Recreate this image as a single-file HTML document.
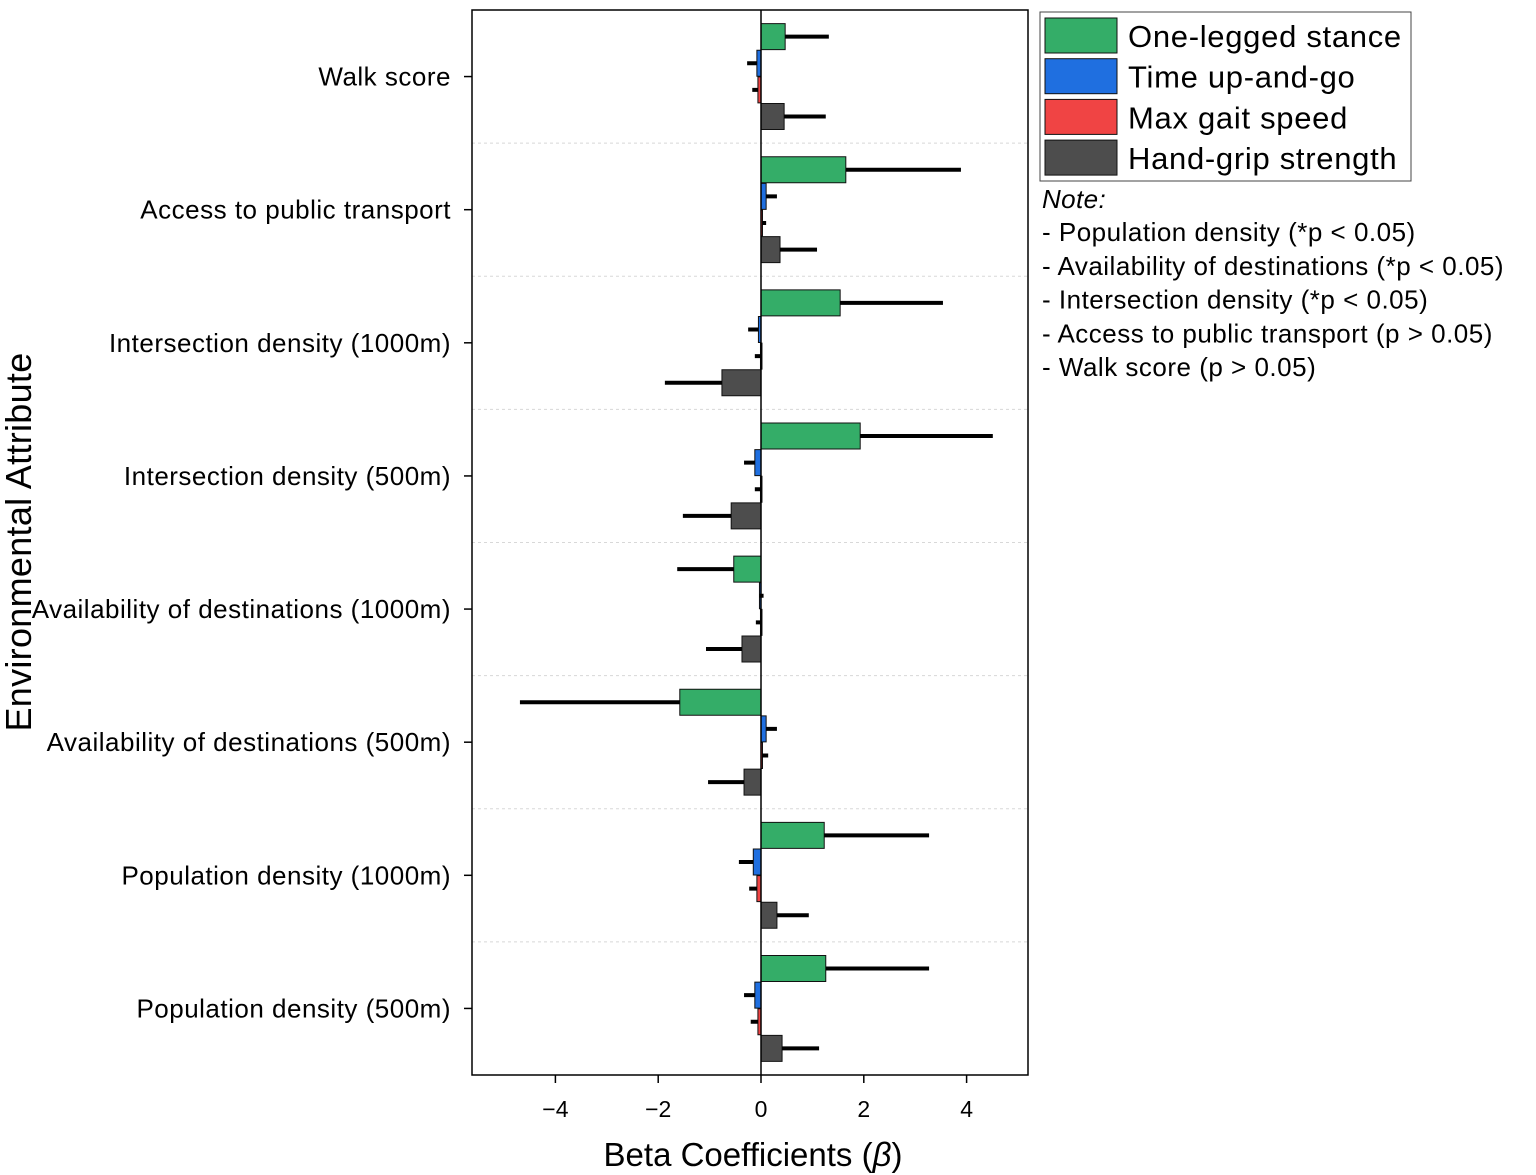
<!DOCTYPE html>
<html><head><meta charset="utf-8">
<style>
html,body{margin:0;padding:0;background:#fff;}
svg{display:block;font-family:"Liberation Sans",Arial,sans-serif;}
</style></head>
<body>
<svg id="chart" width="1536" height="1175" viewBox="0 0 1536 1175"></svg>
<script>
const categories=["Walk score","Access to public transport","Intersection density (1000m)","Intersection density (500m)","Availability of destinations (1000m)","Availability of destinations (500m)","Population density (1000m)","Population density (500m)"];
const seriesNames=["One-legged stance","Time up-and-go","Max gait speed","Hand-grip strength"];
const seriesColors=["#34ad68","#1f6fe0","#f04444","#4d4d4d"];
const stanceVals=[0.47,1.65,1.54,1.93,-0.53,-1.58,1.23,1.26];
const stanceErr=[1.32,3.89,3.54,4.51,-1.63,-4.69,3.27,3.27];
const tugVals=[-0.08,0.1,-0.05,-0.12,-0.03,0.1,-0.15,-0.12];
const tugErr=[-0.27,0.31,-0.25,-0.33,0.05,0.31,-0.43,-0.33];
const gaitVals=[-0.06,0.02,-0.01,-0.01,-0.01,0.02,-0.08,-0.06];
const gaitErr=[-0.17,0.1,-0.12,-0.12,-0.1,0.14,-0.23,-0.2];
const gripVals=[0.45,0.37,-0.76,-0.58,-0.37,-0.33,0.31,0.41];
const gripErr=[1.26,1.09,-1.87,-1.52,-1.07,-1.03,0.93,1.13];
const xTicks=[-4,-2,0,2,4];
const xTickLabels=["\u22124","\u22122","0","2","4"];
const noteLines=["- Population density (*p < 0.05)","- Availability of destinations (*p < 0.05)","- Intersection density (*p < 0.05)","- Access to public transport (p > 0.05)","- Walk score (p > 0.05)"];

const allVals=[stanceVals,tugVals,gaitVals,gripVals];
const allErr=[stanceErr,tugErr,gaitErr,gripErr];
const svg=document.getElementById('chart');
const NS='http://www.w3.org/2000/svg';
const L=472,R=1028,T=10,B=1075;
const x=v=>761+v*51.4;
const gH=(B-T)/categories.length;
const yBar=(g,s)=>T+g*gH+gH/5*(s+1);
function mk(tag,attrs,parent){const e=document.createElementNS(NS,tag);for(const k in attrs)e.setAttribute(k,attrs[k]);(parent||svg).appendChild(e);return e;}

for(let g=1;g<categories.length;g++){
  const l=mk('line',{x1:L,x2:R,y1:T+g*gH,y2:T+g*gH,stroke:'#d8d8d8','stroke-dasharray':'3,3','stroke-width':1});
  
  
}
for(let s=0;s<4;s++){
  for(let g=0;g<categories.length;g++){
    const v=allVals[s][g],e=allErr[s][g],yc=yBar(g,s);
    const x0=Math.min(x(0),x(v)),w=Math.abs(x(v)-x(0));
    const r=mk('rect',{x:x0,y:yc-13,width:Math.max(w,1.5),height:26,fill:seriesColors[s],stroke:'#111','stroke-width':1});
    
    
    const el=mk('line',{x1:x(v),x2:x(e),y1:yc,y2:yc,stroke:'#000','stroke-width':4});
    
    
  }
}
const z=mk('line',{x1:x(0),x2:x(0),y1:T,y2:B,stroke:'#000','stroke-width':1.5});


const fr=mk('rect',{x:L,y:T,width:R-L,height:B-T,fill:'none',stroke:'#000','stroke-width':1.5});


categories.forEach((c,g)=>{
  const yc=T+g*gH+gH/2;
  mk('line',{x1:L-8,x2:L,y1:yc,y2:yc,stroke:'#000','stroke-width':1.5});
  const t=mk('text',{x:451,y:yc+9,'text-anchor':'end','font-size':26,'letter-spacing':0.5,fill:'#000'});
  t.textContent=c;
  
  
});
xTicks.forEach((v,i)=>{
  mk('line',{x1:x(v),x2:x(v),y1:B,y2:B+8,stroke:'#000','stroke-width':1.5});
  const t=mk('text',{x:x(v),y:1117,'text-anchor':'middle','font-size':23,fill:'#000'});
  t.textContent=xTickLabels[i];
  
  
});
const xt=mk('text',{x:753,y:1166,'text-anchor':'middle','font-size':33,fill:'#000'});
xt.innerHTML='Beta Coefficients (<tspan font-style="italic">β</tspan>)';


const yt=mk('text',{x:0,y:0,'text-anchor':'middle','font-size':36,'letter-spacing':0.3,fill:'#000',transform:'translate(31,542) rotate(-90)'});
yt.textContent='Environmental Attribute';


const lb=mk('rect',{x:1040,y:12,width:371,height:169,fill:'#fff',stroke:'#444','stroke-width':1});


seriesNames.forEach((n,i)=>{
  const yy=18+i*40.7;
  const sw=mk('rect',{x:1045,y:yy,width:72,height:35,fill:seriesColors[i],stroke:'#111','stroke-width':1});
  
  
  const t=mk('text',{x:1128,y:yy+29,'font-size':31,'letter-spacing':0.7,fill:'#000'});
  t.textContent=n;
  
  
});
const nt=mk('text',{x:1042,y:208,'font-size':26,'letter-spacing':0.4,'font-style':'italic',fill:'#000'});
nt.textContent='Note:';


noteLines.forEach((s,i)=>{
  const t=mk('text',{x:1042,y:241+i*33.8,'font-size':26,'letter-spacing':0.5,fill:'#000'});
  t.textContent=s;
  
  
});
</script>
</body></html>
